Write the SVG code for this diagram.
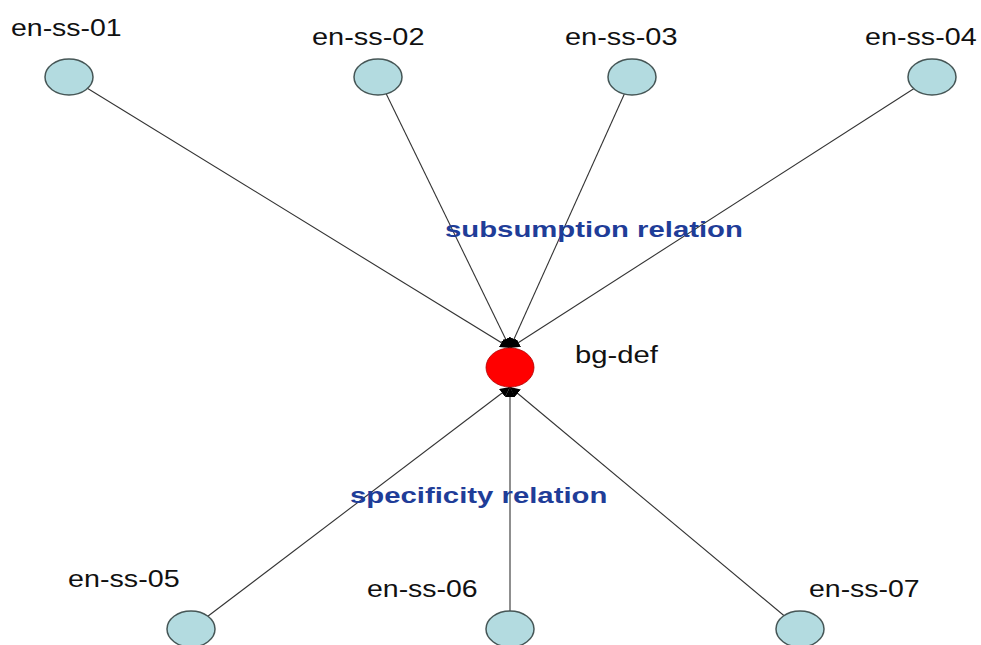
<svg xmlns="http://www.w3.org/2000/svg" width="981" height="645" viewBox="0 0 981 645">
<defs>
<style>
.lbl{font-family:"Liberation Sans",Arial,sans-serif;font-size:24px;fill:#111}
.rel{font-family:"Liberation Sans",Arial,sans-serif;font-size:22px;font-weight:bold;fill:#1f3d98}
.leaf{fill:#b3dbe0;stroke:#465656;stroke-width:1.5}
.edge{stroke:#333;stroke-width:1.1;fill:none;marker-end:url(#ah)}
</style>
<marker id="ah" viewBox="0 0 10 10" refX="10" refY="5" markerWidth="10" markerHeight="10" markerUnits="userSpaceOnUse" orient="auto">
<path d="M0,0 L10,5 L0,10 z" fill="#000"/>
</marker>
</defs>
<rect width="981" height="645" fill="#fff"/>
<g id="connectors">
<line class="edge" x1="69" y1="77" x2="510" y2="348"/>
<line class="edge" x1="378" y1="77" x2="510" y2="348"/>
<line class="edge" x1="632" y1="77" x2="510" y2="348"/>
<line class="edge" x1="932" y1="77" x2="510" y2="348"/>
<line class="edge" x1="191" y1="629" x2="510" y2="387"/>
<line class="edge" x1="510" y1="629" x2="510" y2="387"/>
<line class="edge" x1="800" y1="629" x2="510" y2="387"/>
</g>
<g id="en-ss-01"><ellipse class="leaf" cx="69" cy="77" rx="24" ry="18"/><text class="lbl" transform="translate(11,36) scale(1.19,1)" textLength="93" lengthAdjust="spacingAndGlyphs">en-ss-01</text></g>
<g id="en-ss-02"><ellipse class="leaf" cx="378" cy="77" rx="24" ry="18"/><text class="lbl" transform="translate(312,45) scale(1.21,1)" textLength="93" lengthAdjust="spacingAndGlyphs">en-ss-02</text></g>
<g id="en-ss-03"><ellipse class="leaf" cx="632" cy="77" rx="24" ry="18"/><text class="lbl" transform="translate(565,45) scale(1.21,1)" textLength="93" lengthAdjust="spacingAndGlyphs">en-ss-03</text></g>
<g id="en-ss-04"><ellipse class="leaf" cx="932" cy="77" rx="24" ry="18"/><text class="lbl" transform="translate(865,45) scale(1.2,1)" textLength="93" lengthAdjust="spacingAndGlyphs">en-ss-04</text></g>
<g id="bg-def"><ellipse cx="510" cy="367.5" rx="24" ry="19.5" fill="#ff0000" stroke="#b00000" stroke-width="0.8"/><text class="lbl" transform="translate(575,363) scale(1.22,1)" textLength="68" lengthAdjust="spacingAndGlyphs">bg-def</text></g>
<g id="en-ss-05"><ellipse class="leaf" cx="191" cy="629" rx="24" ry="18"/><text class="lbl" transform="translate(68,587) scale(1.2,1)" textLength="93" lengthAdjust="spacingAndGlyphs">en-ss-05</text></g>
<g id="en-ss-06"><ellipse class="leaf" cx="510" cy="629" rx="24" ry="18"/><text class="lbl" transform="translate(367,597) scale(1.19,1)" textLength="93" lengthAdjust="spacingAndGlyphs">en-ss-06</text></g>
<g id="en-ss-07"><ellipse class="leaf" cx="800" cy="629" rx="24" ry="18"/><text class="lbl" transform="translate(809,597) scale(1.19,1)" textLength="93" lengthAdjust="spacingAndGlyphs">en-ss-07</text></g>
<g id="labels">
<text class="rel" transform="translate(445,237) scale(1.33,1)" textLength="224" lengthAdjust="spacingAndGlyphs">subsumption relation</text>
<text class="rel" transform="translate(350,503) scale(1.3,1)" textLength="198" lengthAdjust="spacingAndGlyphs">specificity relation</text>
</g>
</svg>
